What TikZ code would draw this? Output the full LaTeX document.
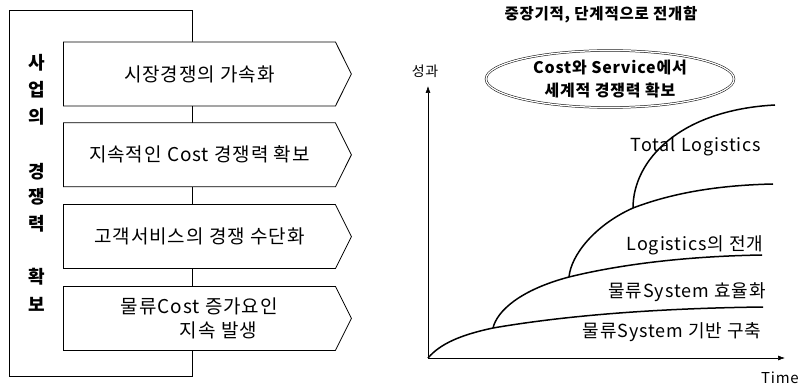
\documentclass[tikz,border=0pt]{standalone}
\usepackage{fontspec}
\setmainfont[LetterSpace=5]{Noto Sans CJK KR}
\usepackage{tikz}
\usetikzlibrary{positioning,shapes.symbols,shapes.geometric,arrows.meta}

\newcommand\boxfont{\fontsize{19}{24}\selectfont}
\newcommand\sidefont{\fontsize{18}{20}\selectfont\bfseries}
\newcommand\chartfont{\fontsize{18}{20}\selectfont}

\begin{document}
\begin{tikzpicture}[x=1pt,y=-1pt,
stagebox/.style={signal,signal to=east,signal pointer angle=127,draw,fill=white,line width=.8pt,
  minimum width=288pt,minimum height=64pt,inner sep=0pt,font=\boxfont},
stepcurve/.style={line width=1.5pt},
axis/.style={line width=.6pt,-{Latex[length=7pt,width=5pt]}},
lbl/.style={inner sep=0pt,font=\chartfont}
]
\useasboundingbox (0,0) rectangle (800,387);
% left frame
\draw[line width=.6pt] (9,10) rectangle (192,376);
\foreach \ch/\y in {사/63,업/90,의/117,경/172,쟁/197,력/224,확/277,보/304}
  \node[font=\sidefont,inner sep=0pt] at (37,\y) {\ch};
\node[stagebox,anchor=west] (b1) at (63,74) {시장경쟁의 가속화};
\node[stagebox,below=16pt of b1] (b2) {지속적인 Cost 경쟁력 확보};
\node[stagebox,below=17pt of b2] (b3) {고객서비스의 경쟁 수단화};
\node[stagebox,below=17pt of b3,align=center] (b4) {물류Cost 증가요인\\\hspace{38pt}지속 발생};

% right chart
\node[font=\fontsize{15.5}{18}\selectfont\bfseries,inner sep=0pt] (title) at (601,15) {중장기적, 단계적으로 전개함};
\node[ellipse,draw,double,double distance=1.3pt,line width=.5pt,minimum width=248pt,minimum height=57pt,
  inner sep=0pt,align=center,font=\fontsize{16}{23}\selectfont\bfseries] (goal) at (610,79)
  {Cost와 Service에서\\세계적 경쟁력 확보};
\coordinate (o) at (428,358);
\coordinate (ytop) at (428,86);
\coordinate (xend) at (785,358);
\draw[axis] (o) -- (ytop);
\draw[axis] (o) -- (xend);
\node[font=\fontsize{14}{16}\selectfont,inner sep=0pt] (perf) at (425,71) {성과};
\node[font=\fontsize{15}{18}\selectfont,inner sep=0pt] (time) at (780,378) {Time};

\coordinate (j1) at (493,328);
\coordinate (j2) at (569,277);
\coordinate (j3) at (633,208);
\coordinate (e1) at (763,307);
\coordinate (e2) at (762,255);
\coordinate (e3) at (773,184);
\coordinate (e4) at (775,105);
\draw[stepcurve] (o) .. controls (440,344) and (460,335) .. (j1) .. controls (580,313) and (680,308) .. (e1);
\draw[stepcurve] (j1) .. controls (497,311) and (520,290) .. (j2) .. controls (630,262) and (700,256) .. (e2);
\draw[stepcurve] (j2) .. controls (571,255) and (595,225) .. (j3) .. controls (680,190) and (730,185) .. (e3);
\draw[stepcurve] (j3) .. controls (633,160) and (680,110) .. (e4);

\node[lbl] (l4) at (696,147) {Total Logistics};
\node[lbl] (l3) at (695,245) {Logistics의 전개};
\node[lbl] (l2) at (687,292) {물류System 효율화};
\node[lbl] (l1) at (672,332) {물류System 기반 구축};
\end{tikzpicture}
\end{document}
